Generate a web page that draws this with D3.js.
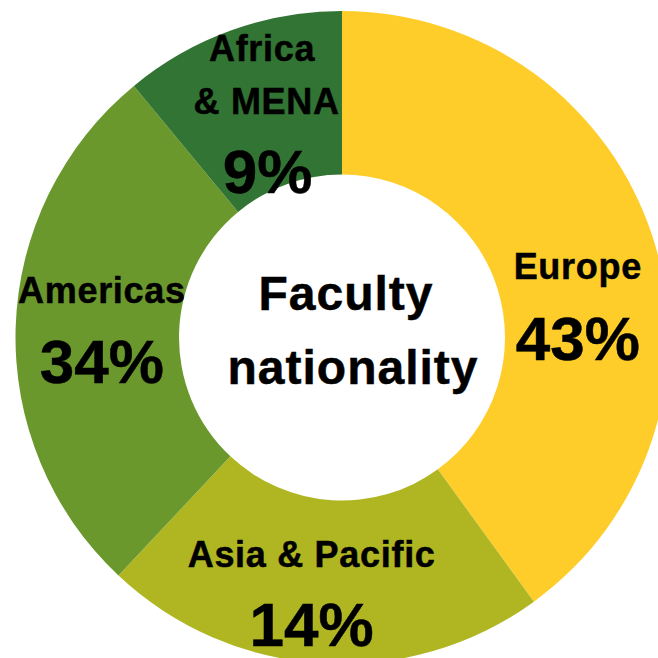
<!DOCTYPE html>
<html>
<head>
<meta charset="utf-8">
<script src="https://cdn.jsdelivr.net/npm/d3@7"></script>
<style>
  html, body { margin: 0; padding: 0; background: #fff; }
  svg { display: block; }
  text { font-family: "Liberation Sans", Arial, sans-serif; font-weight: bold; fill: #000; stroke: #000; stroke-width: 0.5px; }
</style>
</head>
<body>
<svg id="chart" width="658" height="658"></svg>
<script>
// regions, clockwise from 12 o'clock
var regions = ['Europe', 'Asia & Pacific', 'Americas', 'Africa & MENA'];
// slice sizes as drawn in the picture
var sliceShares = [40, 22, 27, 11];
// percentages as printed on the labels
var pctLabels = ['43%', '14%', '34%', '9%'];
// label lines (name split over lines)
var nameLines = [['Europe'], ['Asia & Pacific'], ['Americas'], ['Africa', '& MENA']];
var colors = ['#fecd2a', '#b0b621', '#6a982d', '#327433'];
var centerTitle = ['Faculty', 'nationality'];

var width = 658, height = 658;
var cx = 342, cy = 337.5;
var outerR = 326.5, innerR = 163;

var svg = d3.select('#chart');
var g = svg.append('g').attr('transform', 'translate(' + cx + ',' + cy + ')');

var pie = d3.pie().sort(null).value(function(d) { return d; });
var arcs = pie(sliceShares);

var arc = d3.arc().innerRadius(innerR).outerRadius(outerR);
var labelArc = d3.arc().innerRadius((innerR + outerR) / 2).outerRadius((innerR + outerR) / 2);

g.selectAll('path.slice')
  .data(arcs)
  .enter().append('path')
  .classed('slice', true)
  .attr('d', arc)
  .attr('fill', function(d, i) { return colors[i]; });

// hand tuned label placement around each centroid (dx, name baselines, pct baseline)
var nudge = [
  { dx: 3, names: [17], pct: 98 },
  { dx: -15, names: [-15], pct: 64.5 },
  { dx: 4.5, names: [-27], pct: 53 },
  { dx: 3, names: [-46.4, 6.6], pct: 85.6 }
];

var labels = g.selectAll('g.label')
  .data(arcs)
  .enter().append('g')
  .classed('label', true)
  .attr('transform', function(d) {
    var c = labelArc.centroid(d);
    return 'translate(' + c[0] + ',' + c[1] + ')';
  });

labels.each(function(d, i) {
  var sel = d3.select(this);
  var n = nudge[i];
  nameLines[i].forEach(function(line, k) {
    sel.append('text')
      .attr('x', n.dx + (k === 1 ? 4.5 : 0))
      .attr('y', n.names[k])
      .attr('text-anchor', 'middle')
      .style('font-size', '36px')
      .style('letter-spacing', '0.7px')
      .text(line);
  });
  sel.append('text')
    .attr('x', n.dx + (i === 3 ? 5.5 : 0))
    .attr('y', n.pct)
    .attr('text-anchor', 'middle')
    .style('font-size', '62px')
    .text(pctLabels[i]);
});

// center title
g.append('text')
  .attr('x', 4).attr('y', -28)
  .attr('text-anchor', 'middle')
  .style('font-size', '48px')
  .style('letter-spacing', '1px')
  .text(centerTitle[0]);
g.append('text')
  .attr('x', 11).attr('y', 46)
  .attr('text-anchor', 'middle')
  .style('font-size', '48px')
  .style('letter-spacing', '1px')
  .text(centerTitle[1]);
</script>
</body>
</html>
